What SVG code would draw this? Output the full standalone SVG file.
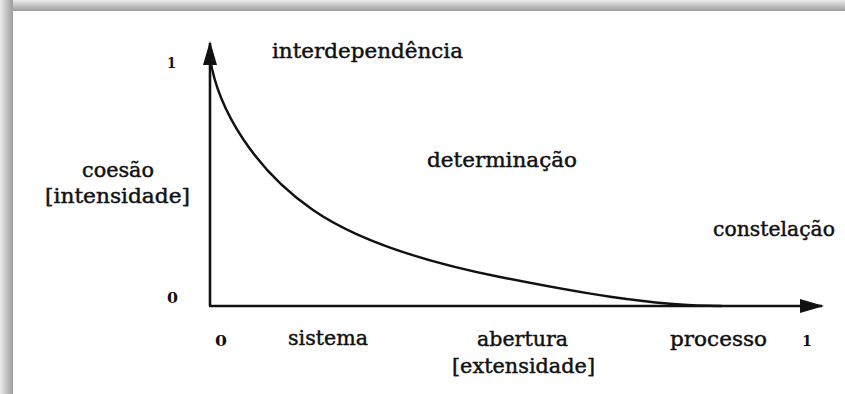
<svg xmlns="http://www.w3.org/2000/svg" width="845" height="394" viewBox="0 0 845 394">
  <defs>
    <linearGradient id="shTop" x1="0" y1="0" x2="0" y2="1">
      <stop offset="0" stop-color="#ececec"/>
      <stop offset="1" stop-color="#9c9c9c"/>
    </linearGradient>
    <linearGradient id="shLeft" x1="0" y1="0" x2="1" y2="0">
      <stop offset="0" stop-color="#ececec"/>
      <stop offset="1" stop-color="#9c9c9c"/>
    </linearGradient>
    <marker id="arrow" viewBox="0 0 24 14" refX="22" refY="7" markerWidth="24" markerHeight="14" markerUnits="userSpaceOnUse" orient="auto">
      <path d="M0,0 L24,7 L0,14 Z" fill="#111"/>
    </marker>
    <style>
      .lbl { font-family: "DejaVu Serif", "Liberation Serif", serif; font-size: 20px; fill: #111; stroke: #111; stroke-width: 0.45; }
      .num { font-family: "DejaVu Serif", "Liberation Serif", serif; font-size: 14px; font-weight: bold; fill: #111; }
      .axis { stroke: #111; stroke-width: 2.6; fill: none; }
      .curve { stroke: #111; stroke-width: 2.4; fill: none; }
    </style>
  </defs>

  <rect x="0" y="0" width="845" height="394" fill="#ffffff"/>
  <rect x="0" y="0" width="845" height="11" fill="url(#shTop)"/>
  <rect x="0" y="0" width="13" height="394" fill="url(#shLeft)"/>
  <rect x="13" y="11" width="832" height="383" fill="#ffffff"/>

  <g id="connectors">
    <line class="axis" x1="210" y1="306" x2="210" y2="43" marker-end="url(#arrow)"/>
    <line class="axis" x1="209" y1="306" x2="822" y2="306" marker-end="url(#arrow)"/>
    <path class="curve" d="M210,58 C218,110 255,170 313,210 C363,244.5 440,265 500,277 C570,291 650,306 722,306"/>
  </g>

  <g id="y-one"><text class="num" x="167" y="68" textLength="9" lengthAdjust="spacingAndGlyphs">1</text></g>
  <g id="y-zero"><text class="num" x="167" y="303" textLength="11" lengthAdjust="spacingAndGlyphs">0</text></g>
  <g id="x-zero"><text class="num" x="215" y="346" textLength="12" lengthAdjust="spacingAndGlyphs">0</text></g>
  <g id="x-one"><text class="num" x="802" y="346" textLength="10" lengthAdjust="spacingAndGlyphs">1</text></g>

  <g id="interdependencia"><text class="lbl" x="272" y="58" textLength="191" lengthAdjust="spacingAndGlyphs">interdependência</text></g>
  <g id="determinacao"><text class="lbl" x="427" y="167" textLength="150" lengthAdjust="spacingAndGlyphs">determinação</text></g>
  <g id="constelacao"><text class="lbl" x="713" y="236" textLength="122" lengthAdjust="spacingAndGlyphs">constelação</text></g>
  <g id="coesao">
    <text class="lbl" x="82" y="177" textLength="72" lengthAdjust="spacingAndGlyphs">coesão</text>
    <text class="lbl" x="45" y="203" textLength="145" lengthAdjust="spacingAndGlyphs">[intensidade]</text>
  </g>
  <g id="sistema"><text class="lbl" x="288" y="345" textLength="80" lengthAdjust="spacingAndGlyphs">sistema</text></g>
  <g id="abertura">
    <text class="lbl" x="477" y="346" textLength="91" lengthAdjust="spacingAndGlyphs">abertura</text>
    <text class="lbl" x="452" y="373" textLength="143" lengthAdjust="spacingAndGlyphs">[extensidade]</text>
  </g>
  <g id="processo"><text class="lbl" x="670" y="346" textLength="97" lengthAdjust="spacingAndGlyphs">processo</text></g>
</svg>
